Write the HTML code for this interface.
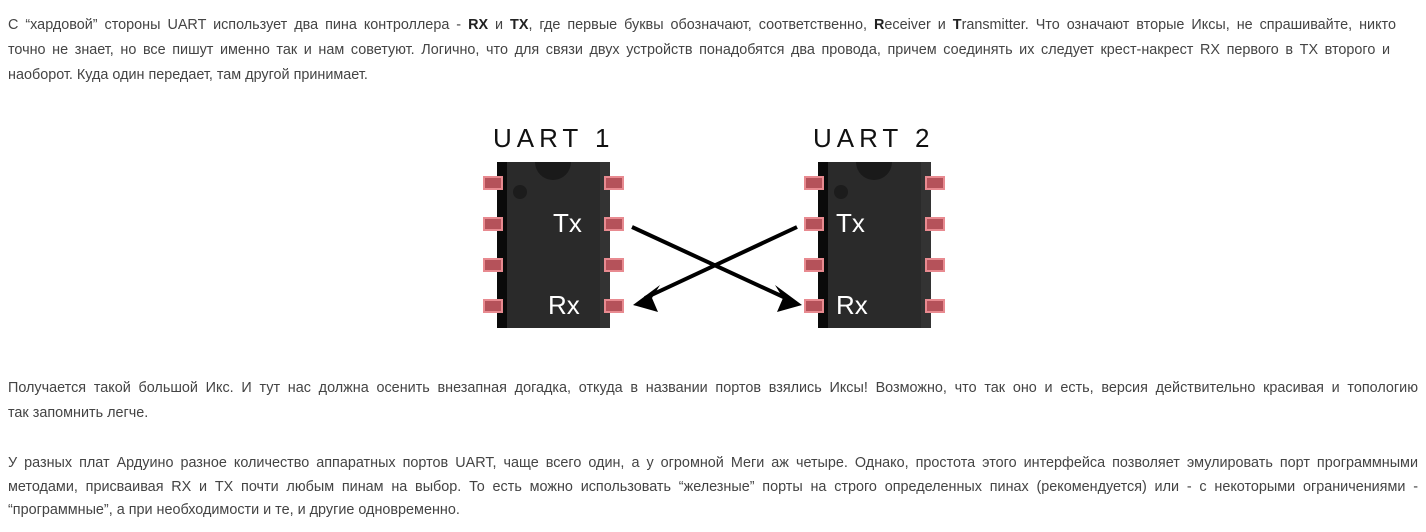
<!DOCTYPE html>
<html><head><meta charset="utf-8"><style>
body{margin:0;width:1426px;height:532px;background:#fff;position:relative;overflow:hidden;font-family:"Liberation Sans",Arial,sans-serif;color:#444;}
.l{position:absolute;left:8px;height:24px;line-height:24px;font-size:14.4px;white-space:nowrap;text-align:justify;text-align-last:justify;}
.n{text-align-last:left;}
b{color:#222}
</style></head><body>
<div class="l" style="top:13px;width:1388px">С “хардовой” стороны UART использует два пина контроллера - <b>RX</b> и <b>TX</b>, где первые буквы обозначают, соответственно, <b>R</b>eceiver и <b>T</b>ransmitter. Что означают вторые Иксы, не спрашивайте, никто</div>
<div class="l" style="top:38px;width:1382px">точно не знает, но все пишут именно так и нам советуют. Логично, что для связи двух устройств понадобятся два провода, причем соединять их следует крест-накрест RX первого в TX второго и</div>
<div class="l n" style="top:63px">наоборот. Куда один передает, там другой принимает.</div>

<svg style="position:absolute;left:0;top:0" width="1426" height="532">
<defs>
<g id="chip">
<rect x="0" y="0" width="113" height="166" fill="#2a2a2a"/>
<rect x="0" y="0" width="10" height="166" fill="#0a0a0a"/>
<rect x="103" y="0" width="10" height="166" fill="#333"/>
<path d="M38 0 A18 18 0 0 0 74 0 Z" fill="#1a1a1a"/>
<circle cx="23" cy="30" r="7" fill="#1c1c1c"/>
<g fill="#b5525a" stroke="#e88a90" stroke-width="2">
<rect x="-13" y="15" width="18" height="12"/><rect x="-13" y="56" width="18" height="12"/><rect x="-13" y="97" width="18" height="12"/><rect x="-13" y="138" width="18" height="12"/>
<rect x="108" y="15" width="18" height="12"/><rect x="108" y="56" width="18" height="12"/><rect x="108" y="97" width="18" height="12"/><rect x="108" y="138" width="18" height="12"/>
</g>
</g>
</defs>
<text x="493" y="147" font-family="Liberation Sans,sans-serif" font-size="26" letter-spacing="5" fill="#111">UART 1</text>
<text x="813" y="147" font-family="Liberation Sans,sans-serif" font-size="26" letter-spacing="5" fill="#111">UART 2</text>
<use href="#chip" x="497" y="162"/>
<use href="#chip" x="818" y="162"/>
<g font-family="Liberation Sans,sans-serif" font-size="26" fill="#fff">
<text x="553" y="232">Tx</text><text x="548" y="314">Rx</text>
<text x="836" y="232">Tx</text><text x="836" y="314">Rx</text>
</g>
<g stroke="#000" stroke-width="4">
<line x1="632" y1="227" x2="790" y2="300"/>
<line x1="797" y1="227" x2="645" y2="298"/>
</g>
<path d="M802 305 L775 285 L783 298 L777 312 Z" fill="#000"/>
<path d="M633 305 L660 285 L652 298 L658 312 Z" fill="#000"/>
</svg>

<div class="l" style="top:376px;width:1410px">Получается такой большой Икс. И тут нас должна осенить внезапная догадка, откуда в названии портов взялись Иксы! Возможно, что так оно и есть, версия действительно красивая и топологию</div>
<div class="l n" style="top:401px">так запомнить легче.</div>
<div class="l" style="top:451px;width:1410px">У разных плат Ардуино разное количество аппаратных портов UART, чаще всего один, а у огромной Меги аж четыре. Однако, простота этого интерфейса позволяет эмулировать порт программными</div>
<div class="l" style="top:475px;width:1410px">методами, присваивая RX и TX почти любым пинам на выбор. То есть можно использовать “железные” порты на строго определенных пинах (рекомендуется) или - с некоторыми ограничениями -</div>
<div class="l n" style="top:498px">“программные”, а при необходимости и те, и другие одновременно.</div>
</body></html>
